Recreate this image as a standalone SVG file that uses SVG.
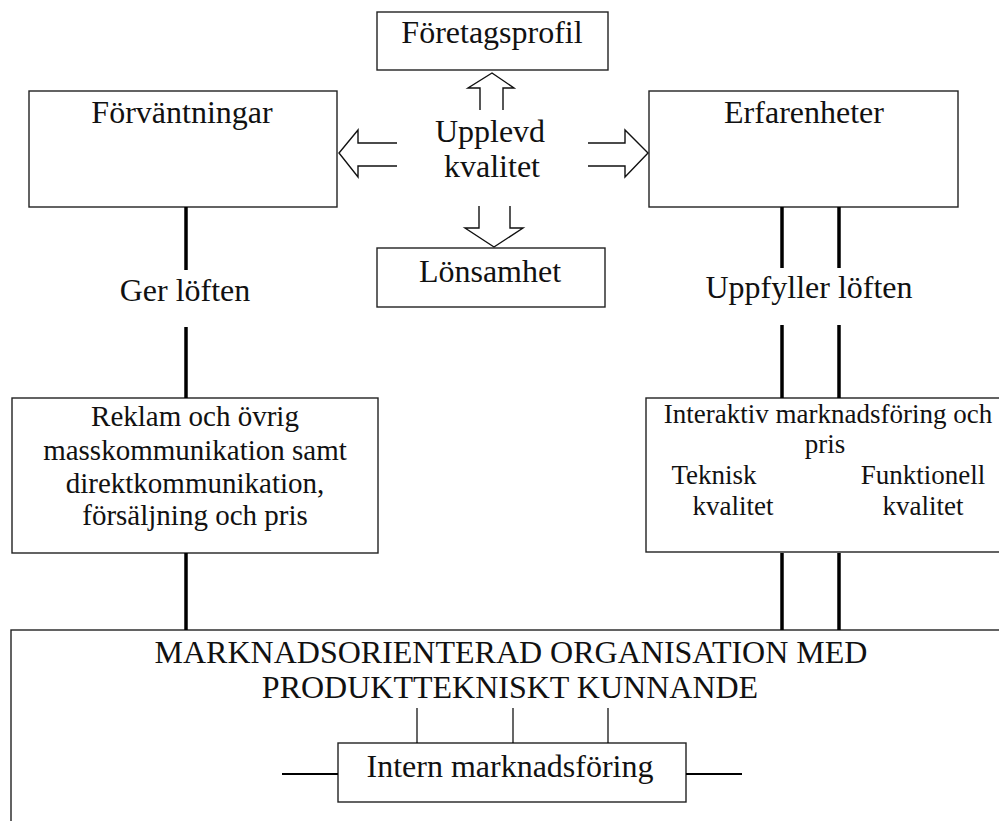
<svg xmlns="http://www.w3.org/2000/svg" width="999" height="821" viewBox="0 0 999 821">
<style>
.box{fill:#fff;stroke:#222;stroke-width:1.4}
.t{font-family:"Liberation Serif","Times New Roman",serif;fill:#111;text-anchor:middle}
.t32{font-size:32px}
.t29{font-size:29px}
.t27{font-size:27px}
.thick{stroke:#000;stroke-width:3.5;fill:none}
.thin{stroke:#000;stroke-width:1.2;fill:none}
.arr{stroke:#111;stroke-width:1.4;fill:none;stroke-linejoin:miter}
</style>
<rect width="999" height="821" fill="#fff"/>
<g id="foretagsprofil">
<rect class="box" x="377" y="12" width="231" height="58"/>
<text class="t t32" x="492" y="43">Företagsprofil</text>
</g>
<g id="upplevd">
<text class="t t32" x="490" y="142">Upplevd</text>
<text class="t t32" x="492" y="177">kvalitet</text>
</g>
<g id="lonsamhet">
<rect class="box" x="377" y="248" width="228" height="59"/>
<text class="t t32" x="490" y="282">Lönsamhet</text>
</g>
<g id="forvantningar">
<rect class="box" x="29" y="91" width="308" height="116"/>
<text class="t t32" x="182" y="123">Förväntningar</text>
</g>
<g id="erfarenheter">
<rect class="box" x="649" y="91" width="309" height="116"/>
<text class="t t32" x="804" y="123">Erfarenheter</text>
</g>
<g id="ger-loften">
<text class="t t32" x="185" y="301">Ger löften</text>
</g>
<g id="uppfyller-loften">
<text class="t t32" x="809" y="298">Uppfyller löften</text>
</g>
<g id="reklam">
<rect class="box" x="12" y="398" width="366" height="155"/>
<text class="t t29" x="195" y="426">Reklam och övrig</text>
<text class="t t29" x="195" y="460">masskommunikation samt</text>
<text class="t t29" x="195" y="493">direktkommunikation,</text>
<text class="t t29" x="195" y="525">försäljning och pris</text>
</g>
<g id="interaktiv">
<rect class="box" x="646" y="398" width="370" height="154"/>
<text class="t t27" x="828" y="423">Interaktiv marknadsföring och</text>
<text class="t t27" x="825" y="453">pris</text>
<text class="t t27" x="714" y="484">Teknisk</text>
<text class="t t27" x="733" y="515">kvalitet</text>
<text class="t t27" x="923" y="484">Funktionell</text>
<text class="t t27" x="923" y="515">kvalitet</text>
</g>
<g id="organisation">
<rect class="box" x="11" y="630" width="1010" height="210"/>
<text class="t t32" x="511" y="663">MARKNADSORIENTERAD ORGANISATION MED</text>
<text class="t t32" x="510" y="698">PRODUKTTEKNISKT KUNNANDE</text>
</g>
<g id="intern">
<rect class="box" x="338" y="743" width="348" height="59"/>
<text class="t t32" x="510" y="777">Intern marknadsföring</text>
</g>
<g id="connectors">
<line class="thick" x1="186" y1="207" x2="186" y2="270"/>
<line class="thick" x1="186" y1="327" x2="186" y2="398"/>
<line class="thick" x1="186" y1="553" x2="186" y2="630"/>
<line class="thick" x1="782" y1="207" x2="782" y2="268"/>
<line class="thick" x1="839" y1="207" x2="839" y2="268"/>
<line class="thick" x1="782" y1="325" x2="782" y2="398"/>
<line class="thick" x1="839" y1="325" x2="839" y2="398"/>
<line class="thick" x1="782" y1="553" x2="782" y2="630"/>
<line class="thick" x1="839" y1="553" x2="839" y2="630"/>
<line class="thin" x1="417" y1="708" x2="417" y2="743"/>
<line class="thin" x1="513" y1="708" x2="513" y2="743"/>
<line class="thin" x1="608" y1="708" x2="608" y2="743"/>
<line stroke="#000" stroke-width="2" x1="282" y1="774" x2="338" y2="774"/>
<line stroke="#000" stroke-width="2" x1="686" y1="774" x2="742" y2="774"/>
<polyline class="arr" points="480,110 480,88 468,88 492,73 514,88 503,88 503,110"/>
<polyline class="arr" points="397,143 358,143 358,130 339,153 358,177 358,166 397,166"/>
<polyline class="arr" points="588,143 625,143 625,130 648,153 625,177 625,166 588,166"/>
<polyline class="arr" points="479,206 479,228 465,228 494,247 523,228 510,228 510,206"/>
</g>
</svg>
